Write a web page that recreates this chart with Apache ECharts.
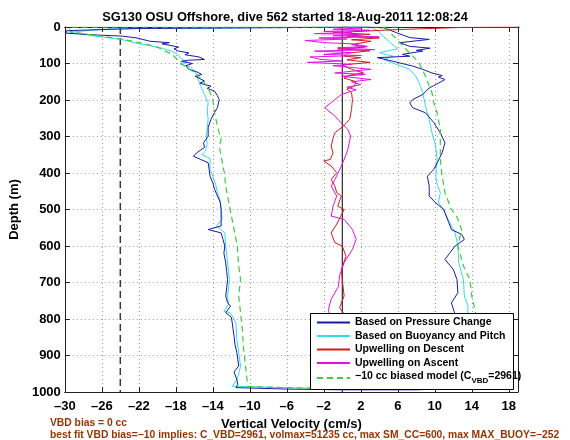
<!DOCTYPE html>
<html>
<head>
<meta charset="utf-8">
<script src="https://cdn.jsdelivr.net/npm/echarts/dist/echarts.min.js"></script>
<style>html,body{margin:0;padding:0;background:#fff}#c{width:570px;height:440px}</style>
</head>
<body>
<div id="c"></div>
<script>
// ---- tick labels / reference values ----
const xTicks = [-30, -26, -22, -18, -14, -10, -6, -2, 2, 6, 10, 14, 18];
const xMin = -30, xMax = 19;
const depthMin = 0, depthMax = 1000, depthStep = 100;
const refDashX = -24;   // dashed reference velocity
const refZeroX = 0;     // zero velocity

// ---- series names ----
const nameBlue = 'Based on Pressure Change';
const nameCyan = 'Based on Buoyancy and Pitch';
const nameRed = 'Upwelling on Descent';
const nameMag = 'Upwelling on Ascent';
const nameModel = '−10 cc biased model (CVBD=2961)';

// ---- series values: [velocity (cm/s), depth (m)] ----
const pressureChange = [
 [2.0,0],[-5,1.5],[-14,3],[-22,4],[-29.8,10],[-29.8,17],[-26.5,22],[-23.8,25],[-22.2,30],[-20.8,39],[-18.7,43],[-19.5,46],
 [-17.7,55],[-18.2,60],[-17.7,66],[-16.6,71],[-17.0,76],[-15.5,82],[-14.9,89],[-16.6,91],[-17.4,94],[-16.2,100],[-16.9,106],
 [-16.6,116],[-15.8,122],[-15.2,130],[-15.9,135],[-14.9,148],[-15.4,154],[-14.2,162],[-14.6,168],[-13.8,176],[-13.5,188],
 [-13.3,199],[-13.5,221],[-13.9,238],[-14.2,253],[-14.5,275],[-14.5,299],[-15.0,317],[-14.9,330],[-15.6,342],[-16.1,354],
 [-15.3,363],[-14.5,372],[-14.4,390],[-14.3,409],[-14.0,427],[-13.8,445],[-13.5,463],[-13.2,480],[-13.1,500],[-13.1,527],
 [-13.1,545],[-14.5,555],[-13.1,564],[-12.9,582],[-12.7,600],[-12.8,620],[-12.6,646],[-12.5,670],[-12.4,692],[-12.5,715],
 [-12.6,737],[-12.4,755],[-12.1,765],[-12.6,783],[-12.0,795],[-11.9,810],[-11.8,830],[-11.7,847],[-11.6,870],[-11.4,892],
 [-11.3,910],[-11.2,929],[-11.7,945],[-11.4,966],[-11.3,980],[-11.5,988],
 [-6,992],[0,994],[8,994],[12.5,990],
 [12.8,975],[13.0,950],[12.7,920],[12.9,890],[12.5,860],[12.3,830],[12.0,800],[12.15,784],[11.8,756],[12.5,728],[12.4,692],
 [12.0,664],[11.1,637],[11.6,620],[12.2,600],[13.2,582],[12.9,568],[11.8,555],[11.5,535],[11.1,509],[11.0,500],[10.1,482],
 [9.4,463],[9.4,436],[9.2,409],[9.9,390],[10.3,370],[10.8,345],[11.1,317],[10.6,290],[9.9,262],[9.0,235],[7.6,221],[7.3,208],
 [7.6,199],[8.7,185],[9.4,167],[10.1,158],[11.1,144],[10.4,137],[10.8,133],[9.7,126],[8.7,116],[7.6,107],[5.5,94],[3.8,84],
 [7.3,80],[6.5,75],[8.7,66],[8.0,64],[9.5,58],[7.3,53],[6.2,43],[9.4,34],[7.3,29],[5.9,16],[4.5,2],[2,0]
];
const buoyancyPitch = [
 [3,0],[-10,2],[-25,5],[-29.5,14],[-28,20],[-26.5,26],[-24.5,32],[-23.5,36],[-22.2,45],[-21,50],[-19.5,58],[-18.5,66],
 [-17.8,75],[-17.5,85],[-16.8,95],[-17.5,102],[-16.4,110],[-16.0,120],[-15.7,132],[-15.6,144],[-15.3,162],[-14.9,185],
 [-14.5,208],[-14.6,230],[-14.5,253],[-14.6,275],[-14.7,299],[-14.6,320],[-14.8,340],[-15.2,350],[-14.3,360],[-14.3,390],
 [-14.0,410],[-13.7,430],[-13.5,454],[-13.2,475],[-13.1,500],[-13.0,527],[-13.6,545],[-12.7,564],[-12.6,600],[-12.4,646],
 [-12.2,692],[-12.4,737],[-12.3,760],[-12.8,779],[-12.1,783],[-11.5,810],[-11.4,856],[-11.2,892],[-11.0,929],[-11.2,950],
 [-11.4,966],[-11.9,984],
 [-5,989],[2,991],[10,990],[13.5,985],
 [13.6,960],[13.9,930],[13.7,900],[13.8,870],[13.6,840],[13.5,810],[13.6,765],[13.2,737],[13.1,692],[12.6,646],[12.5,600],
 [12.2,564],[11.6,535],[11.1,509],[10.4,480],[10.6,454],[10.25,430],[10.1,409],[10.25,363],[10.1,326],[9.7,290],[9.4,253],
 [9.0,217],[8.7,180],[8.3,153],[8.0,137],[7.3,116],[5.9,103],[4.5,89],[5.5,80],[4.0,70],[6.0,60],[5.2,43],[4.5,27],[3.8,9],[3,0]
];
const upwellDescent = [
 [20,0],[13.1,1],[9.7,4],[5,8],[2,12],[-1,15],[3,20],[0.5,25],[4,30],[1,35],[3.1,39],[1.0,48],[2.5,55],[-0.5,60],[3,65],
 [0.5,72],[0.2,80],[2.0,84],[0.5,90],[3,97],[0.0,104],[1.0,116],[2.3,126],[0.8,132],[0.2,140],[1.5,150],[1.3,162],[0.5,170],
 [1.0,180],[1.1,199],[1.0,226],[0.8,253],[0.1,272],[-0.8,290],[-1.0,305],[-1.2,326],[-1.0,345],[-1.3,363],[-2.0,367],
 [-1.2,381],[-0.6,399],[-1.2,418],[-0.8,436],[-0.6,454],[-0.1,463],[-0.5,491],[0.2,500],[-0.2,520],[-0.6,540],[-1.2,564],
 [-0.8,591],[0.0,600],[0.4,628],[-0.1,664],[0.0,692],[0.2,737],[-0.3,769],[0.3,790],[-0.2,820],[0.4,850],[-0.5,880],
 [0.0,910],[-0.4,940],[-0.8,970],[-1.0,985]
];
const upwellAscent = [
 [0,0],[2,3],[-1,6],[3,9],[-2,12],[1,15],[-3,18],[2,21],[-1,24],[4,27],[-2.5,30],[0.5,33],[-4,37],[-1.9,43],[1,46],[2.7,53],
 [-0.5,57],[3.5,62],[-3,66],[1,70],[-2,75],[2,78],[-3.5,82],[-2.3,89],[0,93],[-3.8,97],[1,102],[-1,106],[3.1,116],[-0.8,126],
 [2.5,130],[0,135],[3.1,144],[1,150],[2.0,158],[0.5,165],[1.5,172],[-0.1,185],[-0.8,199],[-1.9,221],[-0.8,244],[-0.1,263],
 [0.6,281],[0.9,299],[0.6,336],[0.2,363],[-0.1,381],[-0.8,418],[-1.2,436],[-0.6,463],[-1.0,491],[-1.2,518],[0.2,527],
 [1.1,555],[1.5,582],[1.1,609],[0.2,646],[-0.3,682],[-0.4,710],[-1.2,746],[-1.5,774],[-1.3,800],[-0.8,830],[-1.0,860],
 [-0.5,890],[-0.8,920],[-0.3,950],[-0.5,980]
];
const biasedModel = [
 [6,0],[-10,0],[-29.5,0.5],[-29.5,12],[-27.5,20],[-25.5,27],[-23.5,35],[-21.5,45],[-20,55],[-18.4,75],[-17.3,103],[-15.9,126],
 [-14.9,153],[-14.5,167],[-14.0,199],[-13.8,235],[-13.5,272],[-13.1,308],[-13.3,326],[-13.1,354],[-12.75,400],[-12.6,436],
 [-12.4,463],[-12.05,509],[-11.7,555],[-11.35,600],[-11.2,655],[-11.0,692],[-11.2,737],[-11.0,783],[-10.8,829],[-10.7,874],
 [-10.5,920],[-10.3,966],[-10.2,985],
 [-3,990],[5,992],[12,990],[14.8,980],
 [15.0,950],[14.9,900],[14.7,850],[14.5,800],[14.3,770],[14.0,737],[13.8,692],[13.1,655],[12.5,600],[12.9,555],[12.4,520],
 [11.8,500],[11.1,454],[10.8,409],[10.6,363],[10.6,326],[10.6,281],[10.25,235],[9.9,208],[9.7,180],[9.4,162],[9.0,135],
 [8.3,98],[7.6,80],[6.6,53],[5.9,34],[5.2,16],[4.5,2],[4.0,0]
];

// ---- text ----
const titleText = 'SG130 OSU Offshore, dive 562 started 18-Aug-2011 12:08:24';
const xName = 'Vertical Velocity (cm/s)';
const yName = 'Depth (m)';
const note1 = 'VBD bias = 0 cc';
const note2 = 'best fit VBD bias=−10 implies: C_VBD=2961, volmax=51235 cc, max SM_CC=600, max MAX_BUOY=−252';

const FONT = '"Liberation Sans", Arial, Helvetica, sans-serif';
const minus = v => String(v).replace('-', '–');

const chart = echarts.init(document.getElementById('c'), null, {renderer: 'canvas'});

const axisLineStyle = {color: '#222', width: 1};
const gridLine = {show: true, lineStyle: {color: '#9a9a9a', width: 1, type: [1, 3]}};
const labelFont = {color: '#000', fontFamily: FONT, fontWeight: 'bold', fontSize: 13};

function line(name, data, color, extra) {
  return Object.assign({
    name, type: 'line', data, symbol: 'none', showSymbol: false,
    lineStyle: {color, width: 1}, itemStyle: {color},
    animation: false, z: 3
  }, extra || {});
}

const option = {
  animation: false,
  backgroundColor: '#fff',
  title: {
    text: titleText, left: 'center', top: 6,
    textStyle: {fontFamily: FONT, fontWeight: 'bold', fontSize: 12.8, color: '#000'}
  },
  grid: {left: 53, right: 52, top: 27, bottom: 48, containLabel: false},
  xAxis: [{
    type: 'value', min: xMin, max: xMax, position: 'bottom',
    axisLine: {show: true, onZero: false, lineStyle: axisLineStyle},
    axisTick: {show: true, inside: true, length: 5, customValues: xTicks, lineStyle: axisLineStyle},
    axisLabel: Object.assign({customValues: xTicks, formatter: minus, margin: 8}, labelFont),
    splitLine: gridLine,
    name: xName, nameLocation: 'middle', nameGap: 23,
    nameTextStyle: {fontFamily: FONT, fontWeight: 'bold', fontSize: 13, color: '#000'}
  }, {
    type: 'value', min: xMin, max: xMax, position: 'top',
    axisLine: {show: true, onZero: false, lineStyle: axisLineStyle},
    axisTick: {show: true, inside: true, length: 5, customValues: xTicks, lineStyle: axisLineStyle},
    axisLabel: {show: false}, splitLine: {show: false}
  }],
  yAxis: [{
    type: 'value', inverse: true, min: depthMin, max: depthMax, interval: depthStep, position: 'left',
    axisLine: {show: true, onZero: false, lineStyle: axisLineStyle},
    axisTick: {show: true, inside: true, length: 5, lineStyle: axisLineStyle},
    axisLabel: Object.assign({margin: 4, formatter: v => String(v)}, labelFont),
    splitLine: gridLine,
    name: yName, nameLocation: 'middle', nameGap: 35, nameRotate: 90,
    nameTextStyle: {fontFamily: FONT, fontWeight: 'bold', fontSize: 13, color: '#000'}
  }, {
    type: 'value', inverse: true, min: depthMin, max: depthMax, interval: depthStep, position: 'right',
    axisLine: {show: true, onZero: false, lineStyle: axisLineStyle},
    axisTick: {show: true, inside: true, length: 5, lineStyle: axisLineStyle},
    axisLabel: {show: false}, splitLine: {show: false}
  }],
  legend: {
    data: [nameBlue, nameCyan, nameRed, nameMag, nameModel],
    orient: 'vertical', left: 310, top: 317,
    backgroundColor: 'transparent', borderWidth: 0,
    padding: [0, 0, 0, 6], itemGap: 2.5, itemWidth: 33, itemHeight: 10,
    itemStyle: {opacity: 0},
    z: 20, selectedMode: false,
    textStyle: {
      fontFamily: FONT, fontWeight: 'bold', fontSize: 10.5, color: '#000',
      rich: {
        n: {fontFamily: FONT, fontWeight: 'bold', fontSize: 10.5, color: '#000', lineHeight: 11, verticalAlign: 'top'},
        s: {fontFamily: FONT, fontWeight: 'bold', fontSize: 8, color: '#000', lineHeight: 14, verticalAlign: 'bottom'}
      }
    },
    formatter: function (name) {
      if (name === nameModel) return '{n|−10 cc biased model (C}{s|VBD}{n|=2961)}';
      return '{n|' + name + '}';
    }
  },
  graphic: [
    {type: 'rect', z: 15, silent: true, shape: {x: 310.5, y: 313.5, width: 203, height: 76},
     style: {fill: '#fff', stroke: '#000', lineWidth: 1}},
    {type: 'text', left: 50, top: 418, z: 30, style: {text: note1, fill: '#993300', font: 'bold 10.3px ' + FONT}},
    {type: 'text', left: 50, top: 430, z: 30, style: {text: note2, fill: '#993300', font: 'bold 10.3px ' + FONT}}
  ],
  series: [
    line('refDash', [[refDashX, depthMin], [refDashX, depthMax]], '#3a3a3a', {lineStyle: {color: '#3a3a3a', width: 1.5, type: [7, 4]}, z: 2, silent: true}),
    line('refZero', [[refZeroX, depthMin], [refZeroX, depthMax]], '#000', {lineStyle: {color: '#000', width: 1}, z: 2, silent: true}),
    line(nameCyan, buoyancyPitch, '#33dde6'),
    line(nameBlue, pressureChange, '#1a1aa8'),
    line(nameRed, upwellDescent, '#d41a1a'),
    line(nameMag, upwellAscent, '#e014e0'),
    line(nameModel, biasedModel, '#3ccc3c', {lineStyle: {color: '#3ccc3c', width: 1.2, type: [6, 4]}})
  ]
};
chart.setOption(option);
</script>
</body>
</html>
